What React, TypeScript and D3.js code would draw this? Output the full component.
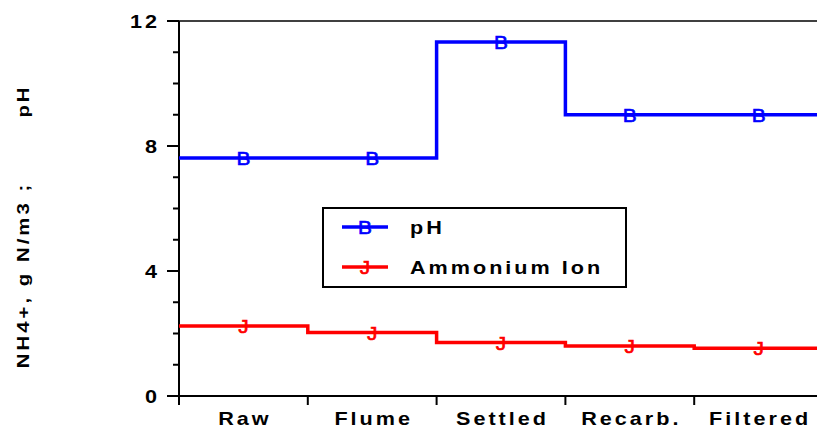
import React from "react";
import * as d3 from "d3";

// process stages along the x axis
const stages = ["Raw", "Flume", "Settled", "Recarb.", "Filtered"];
// pH per stage
const phValues = [7.62, 7.62, 11.33, 9.0, 9.0];
// ammonium ion, g N/m3
const nh4Values = [2.24, 2.03, 1.71, 1.6, 1.53];
const yMajorTicks = [0, 4, 8, 12];

const W = 817;
const H = 430;
const font = "'Liberation Sans', Arial, sans-serif";

// wide bold label, stretched horizontally like the original export
function T(props: { x: number; y: number; anchor?: string; size?: number; rot?: boolean; children: any }) {
  const { x, y, anchor = "start", size = 18, rot = false, children } = props;
  const tr = rot ? `translate(${x},${y}) rotate(-90) scale(1.2,1)` : `translate(${x},${y}) scale(1.2,1)`;
  return (
    <text transform={tr} textAnchor={anchor} fontSize={size} fontWeight="bold" letterSpacing={2.5}>
      {children}
    </text>
  );
}

export default function App() {
  const x = d3.scaleLinear().domain([0, stages.length]).range([179, 823]);
  const y = d3.scaleLinear().domain([0, 12]).range([396, 21]);
  const minor = d3.range(0, 13, 1);

  const step = d3
    .line<[number, number]>()
    .x((d) => x(d[0]))
    .y((d) => y(d[1]))
    .curve(d3.curveStepAfter);

  const stepPts = (vals: number[]): [number, number][] => {
    const pts: [number, number][] = vals.map((v, i) => [i, v]);
    pts.push([vals.length, vals[vals.length - 1]]);
    return pts;
  };

  const series = [
    { name: "pH", vals: phValues, color: "#0000ff", mark: "B" },
    { name: "Ammonium Ion", vals: nh4Values, color: "#ff0000", mark: "J" },
  ];

  const marker = (m: string, cx: number, cy: number, color: string, key?: any) => (
    <text
      key={key}
      transform={`translate(${cx},${cy + 7}) scale(1.1,1)`}
      textAnchor="middle"
      fontSize={19}
      fill={color}
      stroke={color}
      strokeWidth={0.6}
    >
      {m}
    </text>
  );

  return (
    <svg
      width={W}
      height={H}
      style={{ position: "absolute", left: 0, top: 0, background: "#fff" }}
      fontFamily={font}
    >
      {/* frame top */}
      <line x1={179} x2={W} y1={y(12)} y2={y(12)} stroke="#000" strokeWidth={1.5} />
      {/* y axis */}
      <line x1={179} x2={179} y1={y(12)} y2={y(0)} stroke="#000" strokeWidth={2} />
      {minor.map((t) => (
        <line
          key={"m" + t}
          x1={t % 4 === 0 ? 167 : 173}
          x2={179}
          y1={y(t)}
          y2={y(t)}
          stroke="#000"
          strokeWidth={2}
        />
      ))}
      {yMajorTicks.map((t) => (
        <T key={"l" + t} x={160} y={y(t) + 6.5} anchor="end">
          {t}
        </T>
      ))}
      {/* x axis */}
      <line x1={167} x2={W} y1={y(0)} y2={y(0)} stroke="#000" strokeWidth={2} />
      {d3.range(0, stages.length + 1).map((i) => (
        <line key={"xt" + i} x1={x(i)} x2={x(i)} y1={y(0)} y2={y(0) + 9} stroke="#000" strokeWidth={2} />
      ))}
      {stages.map((s, i) => (
        <T key={s} x={x(i + 0.5) + 1.5} y={425} anchor="middle">
          {s}
        </T>
      ))}
      {/* y title */}
      <T x={29} y={275} anchor="middle" size={17} rot>
        NH4+, g N/m3 ;
      </T>
      <T x={29} y={101} anchor="middle" size={17} rot>
        pH
      </T>
      {/* series */}
      {series.map((s) => (
        <g key={s.name}>
          <path d={step(stepPts(s.vals)) || ""} fill="none" stroke={s.color} strokeWidth={3.5} />
          {s.vals.map((v, i) => marker(s.mark, x(i + 0.5), y(v), s.color, i))}
        </g>
      ))}
      {/* legend */}
      <rect x={323} y={208} width={303} height={79} fill="#fff" stroke="#000" strokeWidth={2} />
      {series.map((s, i) => {
        const ly = 227 + i * 40;
        return (
          <g key={"lg" + s.name}>
            <line x1={342} x2={388} y1={ly} y2={ly} stroke={s.color} strokeWidth={3.5} />
            {marker(s.mark, 365, ly, s.color)}
            <T x={410} y={ly + 7}>
              {s.name}
            </T>
          </g>
        );
      })}
    </svg>
  );
}
